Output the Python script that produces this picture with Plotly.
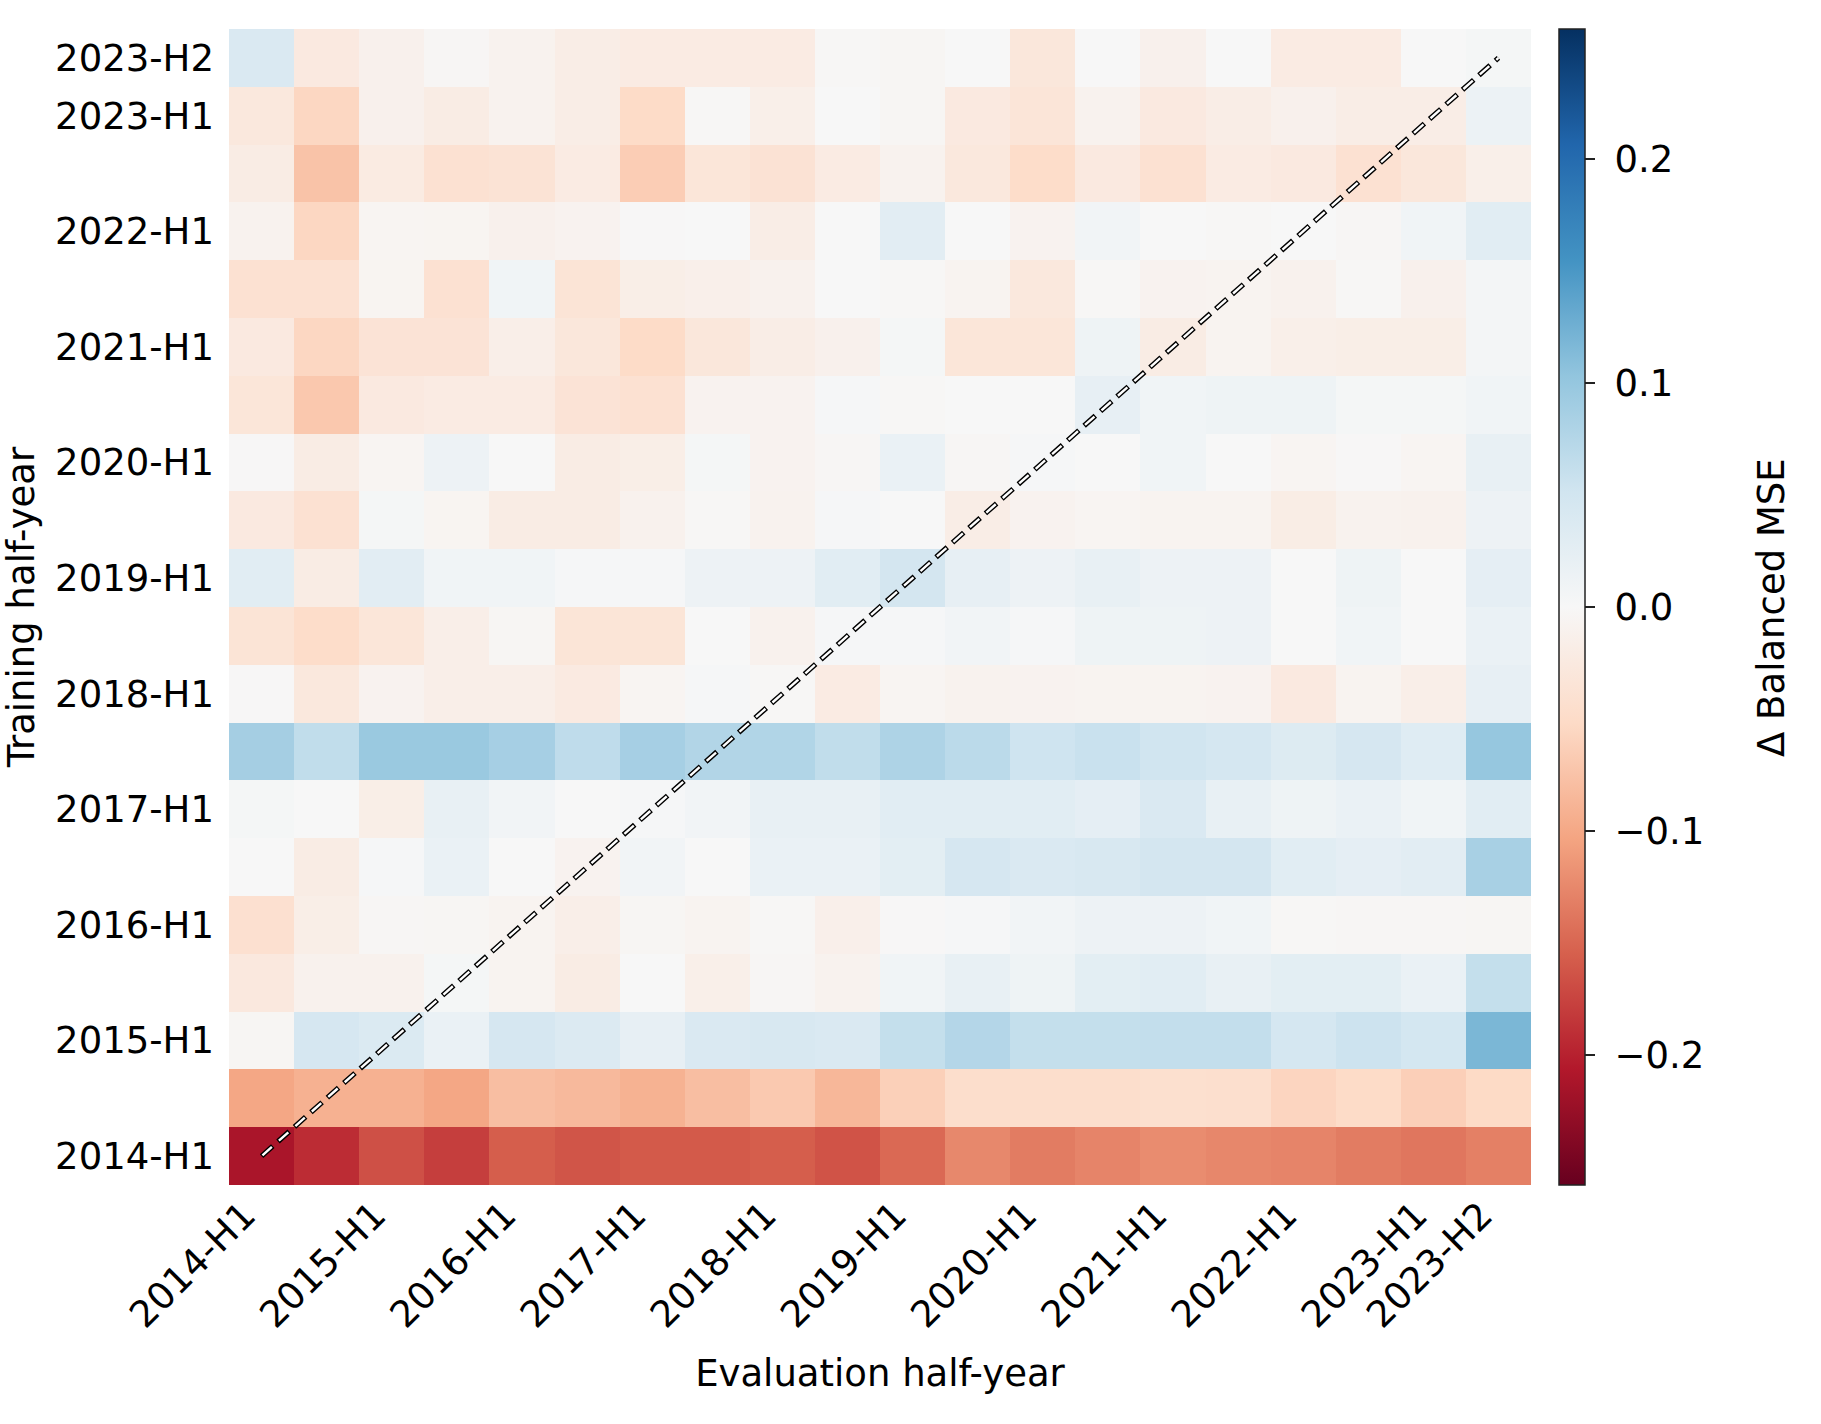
import plotly.graph_objects as go

# Half-year periods (shared by training rows and evaluation columns)
half_years = [
    "2014-H1", "2014-H2", "2015-H1", "2015-H2", "2016-H1", "2016-H2",
    "2017-H1", "2017-H2", "2018-H1", "2018-H2", "2019-H1", "2019-H2",
    "2020-H1", "2020-H2", "2021-H1", "2021-H2", "2022-H1", "2022-H2",
    "2023-H1", "2023-H2",
]
tick_labels = [
    "2014-H1", "2015-H1", "2016-H1", "2017-H1", "2018-H1",
    "2019-H1", "2020-H1", "2021-H1", "2022-H1", "2023-H1", "2023-H2",
]
cbar_ticks = [-0.2, -0.1, 0.0, 0.1, 0.2]
cbar_text = ["\u22120.2", "\u22120.1", "0.0", "0.1", "0.2"]

# Δ Balanced MSE, one row per training half-year (2014-H1 first), columns = evaluation half-years
row_2014_h1 = [-0.212, -0.192, -0.166, -0.179, -0.156, -0.163, -0.159, -0.159, -0.156, -0.164,
               -0.148, -0.125, -0.134, -0.128, -0.122, -0.126, -0.128, -0.134, -0.138, -0.131]
row_2014_h2 = [-0.101, -0.092, -0.092, -0.101, -0.079, -0.084, -0.091, -0.079, -0.069, -0.086,
               -0.062, -0.046, -0.046, -0.046, -0.043, -0.044, -0.057, -0.050, -0.063, -0.052]
row_2015_h1 = [-0.004, 0.045, 0.038, 0.017, 0.045, 0.037, 0.022, 0.040, 0.042, 0.040,
               0.062, 0.075, 0.062, 0.062, 0.063, 0.063, 0.046, 0.055, 0.047, 0.118]
row_2015_h2 = [-0.027, -0.011, -0.011, 0.004, -0.008, -0.020, 0.000, -0.015, -0.003, -0.010,
               0.009, 0.020, 0.012, 0.027, 0.030, 0.020, 0.027, 0.027, 0.017, 0.062]
row_2016_h1 = [-0.042, -0.017, -0.003, -0.004, -0.008, -0.016, -0.004, -0.007, -0.002, -0.014,
               -0.001, 0.003, 0.008, 0.013, 0.013, 0.010, -0.002, -0.003, -0.003, -0.004]
row_2016_h2 = [0.000, -0.020, 0.003, 0.017, 0.000, -0.009, 0.008, 0.000, 0.018, 0.018,
               0.027, 0.045, 0.040, 0.042, 0.048, 0.048, 0.030, 0.025, 0.028, 0.085]
row_2017_h1 = [0.004, 0.000, -0.017, 0.020, 0.008, 0.000, 0.003, 0.008, 0.020, 0.020,
               0.030, 0.030, 0.030, 0.025, 0.040, 0.020, 0.012, 0.018, 0.009, 0.030]
row_2017_h2 = [0.088, 0.065, 0.097, 0.097, 0.087, 0.066, 0.087, 0.077, 0.078, 0.065,
               0.080, 0.070, 0.053, 0.058, 0.051, 0.046, 0.035, 0.045, 0.032, 0.100]
row_2018_h1 = [-0.001, -0.028, -0.009, -0.016, -0.016, -0.024, -0.005, 0.003, -0.002, -0.022,
               -0.005, -0.010, -0.009, -0.007, -0.007, -0.009, -0.025, -0.007, -0.016, 0.022]
row_2018_h2 = [-0.035, -0.048, -0.032, -0.016, -0.004, -0.034, -0.034, 0.000, -0.011, 0.003,
               0.003, 0.008, 0.003, 0.012, 0.012, 0.014, 0.000, 0.009, 0.000, 0.018]
row_2019_h1 = [0.030, -0.020, 0.028, 0.009, 0.009, 0.003, 0.003, 0.014, 0.013, 0.030,
               0.048, 0.022, 0.013, 0.020, 0.013, 0.013, 0.000, 0.012, 0.000, 0.025]
row_2019_h2 = [-0.025, -0.040, 0.004, -0.006, -0.020, -0.020, -0.011, -0.002, -0.010, 0.003,
               0.000, -0.018, -0.009, -0.005, -0.008, -0.007, -0.019, -0.010, -0.011, 0.014]
row_2020_h1 = [-0.001, -0.020, -0.005, 0.013, 0.000, -0.020, -0.017, 0.004, -0.009, -0.003,
               0.017, -0.003, 0.003, 0.000, 0.009, 0.000, -0.005, -0.001, -0.005, 0.020]
row_2020_h2 = [-0.032, -0.070, -0.025, -0.022, -0.022, -0.036, -0.040, -0.009, -0.009, 0.003,
               -0.002, 0.000, 0.000, 0.022, 0.010, 0.012, 0.012, 0.004, 0.004, 0.010]
row_2021_h1 = [-0.025, -0.055, -0.036, -0.036, -0.016, -0.030, -0.050, -0.030, -0.018, -0.012,
               0.004, -0.032, -0.032, 0.012, -0.020, -0.007, -0.015, -0.017, -0.017, 0.006]
row_2021_h2 = [-0.040, -0.040, -0.006, -0.040, 0.009, -0.035, -0.017, -0.014, -0.011, 0.000,
               -0.002, -0.007, -0.028, -0.002, -0.009, -0.008, -0.011, -0.002, -0.012, 0.005]
row_2022_h1 = [-0.010, -0.055, -0.005, -0.006, -0.012, -0.009, -0.001, 0.000, -0.018, 0.000,
               0.028, 0.000, -0.009, 0.008, 0.000, -0.002, 0.000, -0.003, 0.009, 0.030]
row_2022_h2 = [-0.020, -0.075, -0.023, -0.040, -0.037, -0.022, -0.065, -0.032, -0.038, -0.022,
               -0.010, -0.028, -0.048, -0.025, -0.040, -0.022, -0.025, -0.040, -0.030, -0.015]
row_2023_h1 = [-0.028, -0.055, -0.012, -0.020, -0.010, -0.018, -0.050, -0.002, -0.015, 0.000,
               -0.004, -0.025, -0.033, -0.010, -0.025, -0.018, -0.012, -0.018, -0.018, 0.015]
row_2023_h2 = [0.040, -0.025, -0.012, -0.003, -0.010, -0.018, -0.022, -0.022, -0.022, -0.002,
               -0.004, 0.000, -0.030, 0.000, -0.012, 0.000, -0.022, -0.022, 0.000, 0.004]

delta_mse = [
    row_2014_h1, row_2014_h2, row_2015_h1, row_2015_h2, row_2016_h1, row_2016_h2,
    row_2017_h1, row_2017_h2, row_2018_h1, row_2018_h2, row_2019_h1, row_2019_h2,
    row_2020_h1, row_2020_h2, row_2021_h1, row_2021_h2, row_2022_h1, row_2022_h2,
    row_2023_h1, row_2023_h2,
]

VLIM = 0.258
rdbu = ["#67001f", "#b2182b", "#d6604d", "#f4a582", "#fddbc7", "#f7f7f7",
        "#d1e5f0", "#92c5de", "#4393c3", "#2166ac", "#053061"]
colorscale = [[i / 10, c] for i, c in enumerate(rdbu)]

FONT = "DejaVu Sans"
FS = 37

fig = go.Figure()
fig.add_trace(go.Heatmap(
    z=delta_mse, x=half_years, y=half_years,
    colorscale=colorscale, zmin=-VLIM, zmax=VLIM,
    hoverongaps=False,
    colorbar=dict(
        x=1.0215, xanchor="left", xpad=0, ypad=0,
        y=0.5, yanchor="middle", len=1.0, lenmode="fraction",
        thickness=26, thicknessmode="pixels",
        outlinecolor="#222222", outlinewidth=1.5,
        tickvals=cbar_ticks, ticktext=["\u00a0" + t for t in cbar_text],
        ticks="outside", ticklen=10, tickwidth=2, tickcolor="#222222",
        tickfont=dict(family=FONT, size=FS, color="black"),
    ),
))

# diagonal reference line (train == eval): white dashes with a black outline
for col, w, dash in (("black", 5.2, "15px,7px"), ("white", 2.4, "0px,1.2px,12.6px,8.2px")):
    fig.add_trace(go.Scatter(
        x=[half_years[0], half_years[-1]], y=[half_years[0], half_years[-1]],
        mode="lines", line=dict(color=col, width=w, dash=dash),
        hoverinfo="skip", showlegend=False,
    ))

fig.add_annotation(
    text="\u0394 Balanced MSE", xref="paper", yref="paper",
    x=1.1843, y=0.5, xanchor="center", yanchor="middle",
    textangle=-90, showarrow=False,
    font=dict(family=FONT, size=FS, color="black"),
)

fig.update_layout(
    width=1821, height=1424,
    margin=dict(l=229, r=290, t=29, b=239, autoexpand=False),
    paper_bgcolor="white", plot_bgcolor="white",
    font=dict(family=FONT, size=FS, color="black"),
)
fig.update_xaxes(
    type="category", categoryorder="array", categoryarray=half_years,
    tickvals=tick_labels, ticktext=tick_labels, tickangle=-45,
    tickfont=dict(family=FONT, size=FS, color="black"),
    ticks="", ticklabelstandoff=0, ticklabelshift=-17,
    showgrid=False, zeroline=False, showline=False,
    range=[-0.5, 19.5],
    title=dict(text="Evaluation half-year", standoff=24,
               font=dict(family=FONT, size=FS, color="black")),
)
fig.update_yaxes(
    type="category", categoryorder="array", categoryarray=half_years,
    tickvals=tick_labels, ticktext=tick_labels,
    tickfont=dict(family=FONT, size=FS, color="black"),
    ticks="", ticklabelstandoff=14,
    showgrid=False, zeroline=False, showline=False,
    range=[-0.5, 19.5],
    title=dict(text="Training half-year", standoff=22,
               font=dict(family=FONT, size=FS, color="black")),
)

fig.write_html("out.html")
